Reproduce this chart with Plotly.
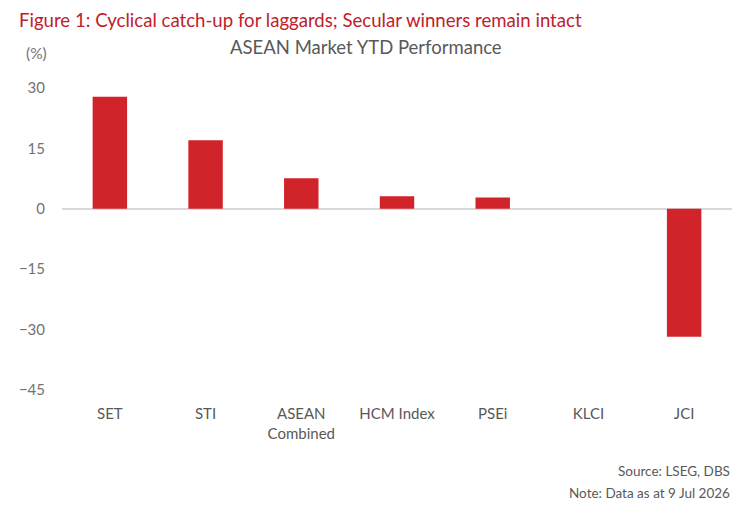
import plotly.graph_objects as go

markets = ["SET", "STI", "ASEAN<br>Combined", "HCM Index", "PSEi", "KLCI", "JCI"]
ytd_perf = [27.8, 17.0, 7.6, 3.1, 2.8, 0.0, -31.8]
y_ticks = [-45, -30, -15, 0, 15, 30]

red = "#d0232a"
grey = "#595959"
light_grey = "#737373"
font = "Lato"

fig = go.Figure()
fig.add_trace(go.Bar(x=markets, y=ytd_perf, marker_color=red, width=0.36,
                     marker_line_width=0))

# page body has an 8px margin, so margins are trimmed to keep the plot where it should sit
fig.update_layout(
    width=752, height=513,
    margin=dict(l=54, r=28, t=80, b=131),
    plot_bgcolor="white", paper_bgcolor="white",
    font=dict(family=font, color=grey, size=15),
    showlegend=False,
    xaxis=dict(showgrid=False, showline=False, ticks="", ticklabelstandoff=13,
               tickfont=dict(size=15, color=grey)),
    yaxis=dict(range=[-45, 30], tickvals=y_ticks, showgrid=False, showline=False,
               zeroline=True, zerolinecolor="#d9d9d9", zerolinewidth=2,
               ticks="", ticklabelstandoff=16, tickfont=dict(size=15, color=light_grey)),
)

fig.add_annotation(text="Figure 1: Cyclical catch-up for laggards; Secular winners remain intact",
                   xref="paper", yref="paper", x=-0.067, y=1.0, yshift=68,
                   xanchor="left", yanchor="middle", showarrow=False,
                   font=dict(family=font, size=18.6, color="#c0202a"))
fig.add_annotation(text="ASEAN Market YTD Performance", xref="paper", yref="paper",
                   x=0.454, y=1.0, yshift=41, xanchor="center", yanchor="middle",
                   showarrow=False, font=dict(family=font, size=18.5, color=grey))
fig.add_annotation(text="(%)", xref="paper", yref="paper", x=0, y=1.0, xshift=-13,
                   yshift=35, xanchor="right", yanchor="middle", showarrow=False,
                   font=dict(family=font, size=15.5, color=light_grey))
fig.add_annotation(text="Source: LSEG, DBS", xref="paper", yref="paper", x=1.0, y=0,
                   yshift=-81, xanchor="right", yanchor="middle", showarrow=False,
                   font=dict(family=font, size=13.5, color=grey))
fig.add_annotation(text="Note: Data as at 9 Jul 2026", xref="paper", yref="paper", x=1.0,
                   y=0, yshift=-103, xanchor="right", yanchor="middle", showarrow=False,
                   font=dict(family=font, size=13.5, color=grey))

fig.write_html("out.html")
